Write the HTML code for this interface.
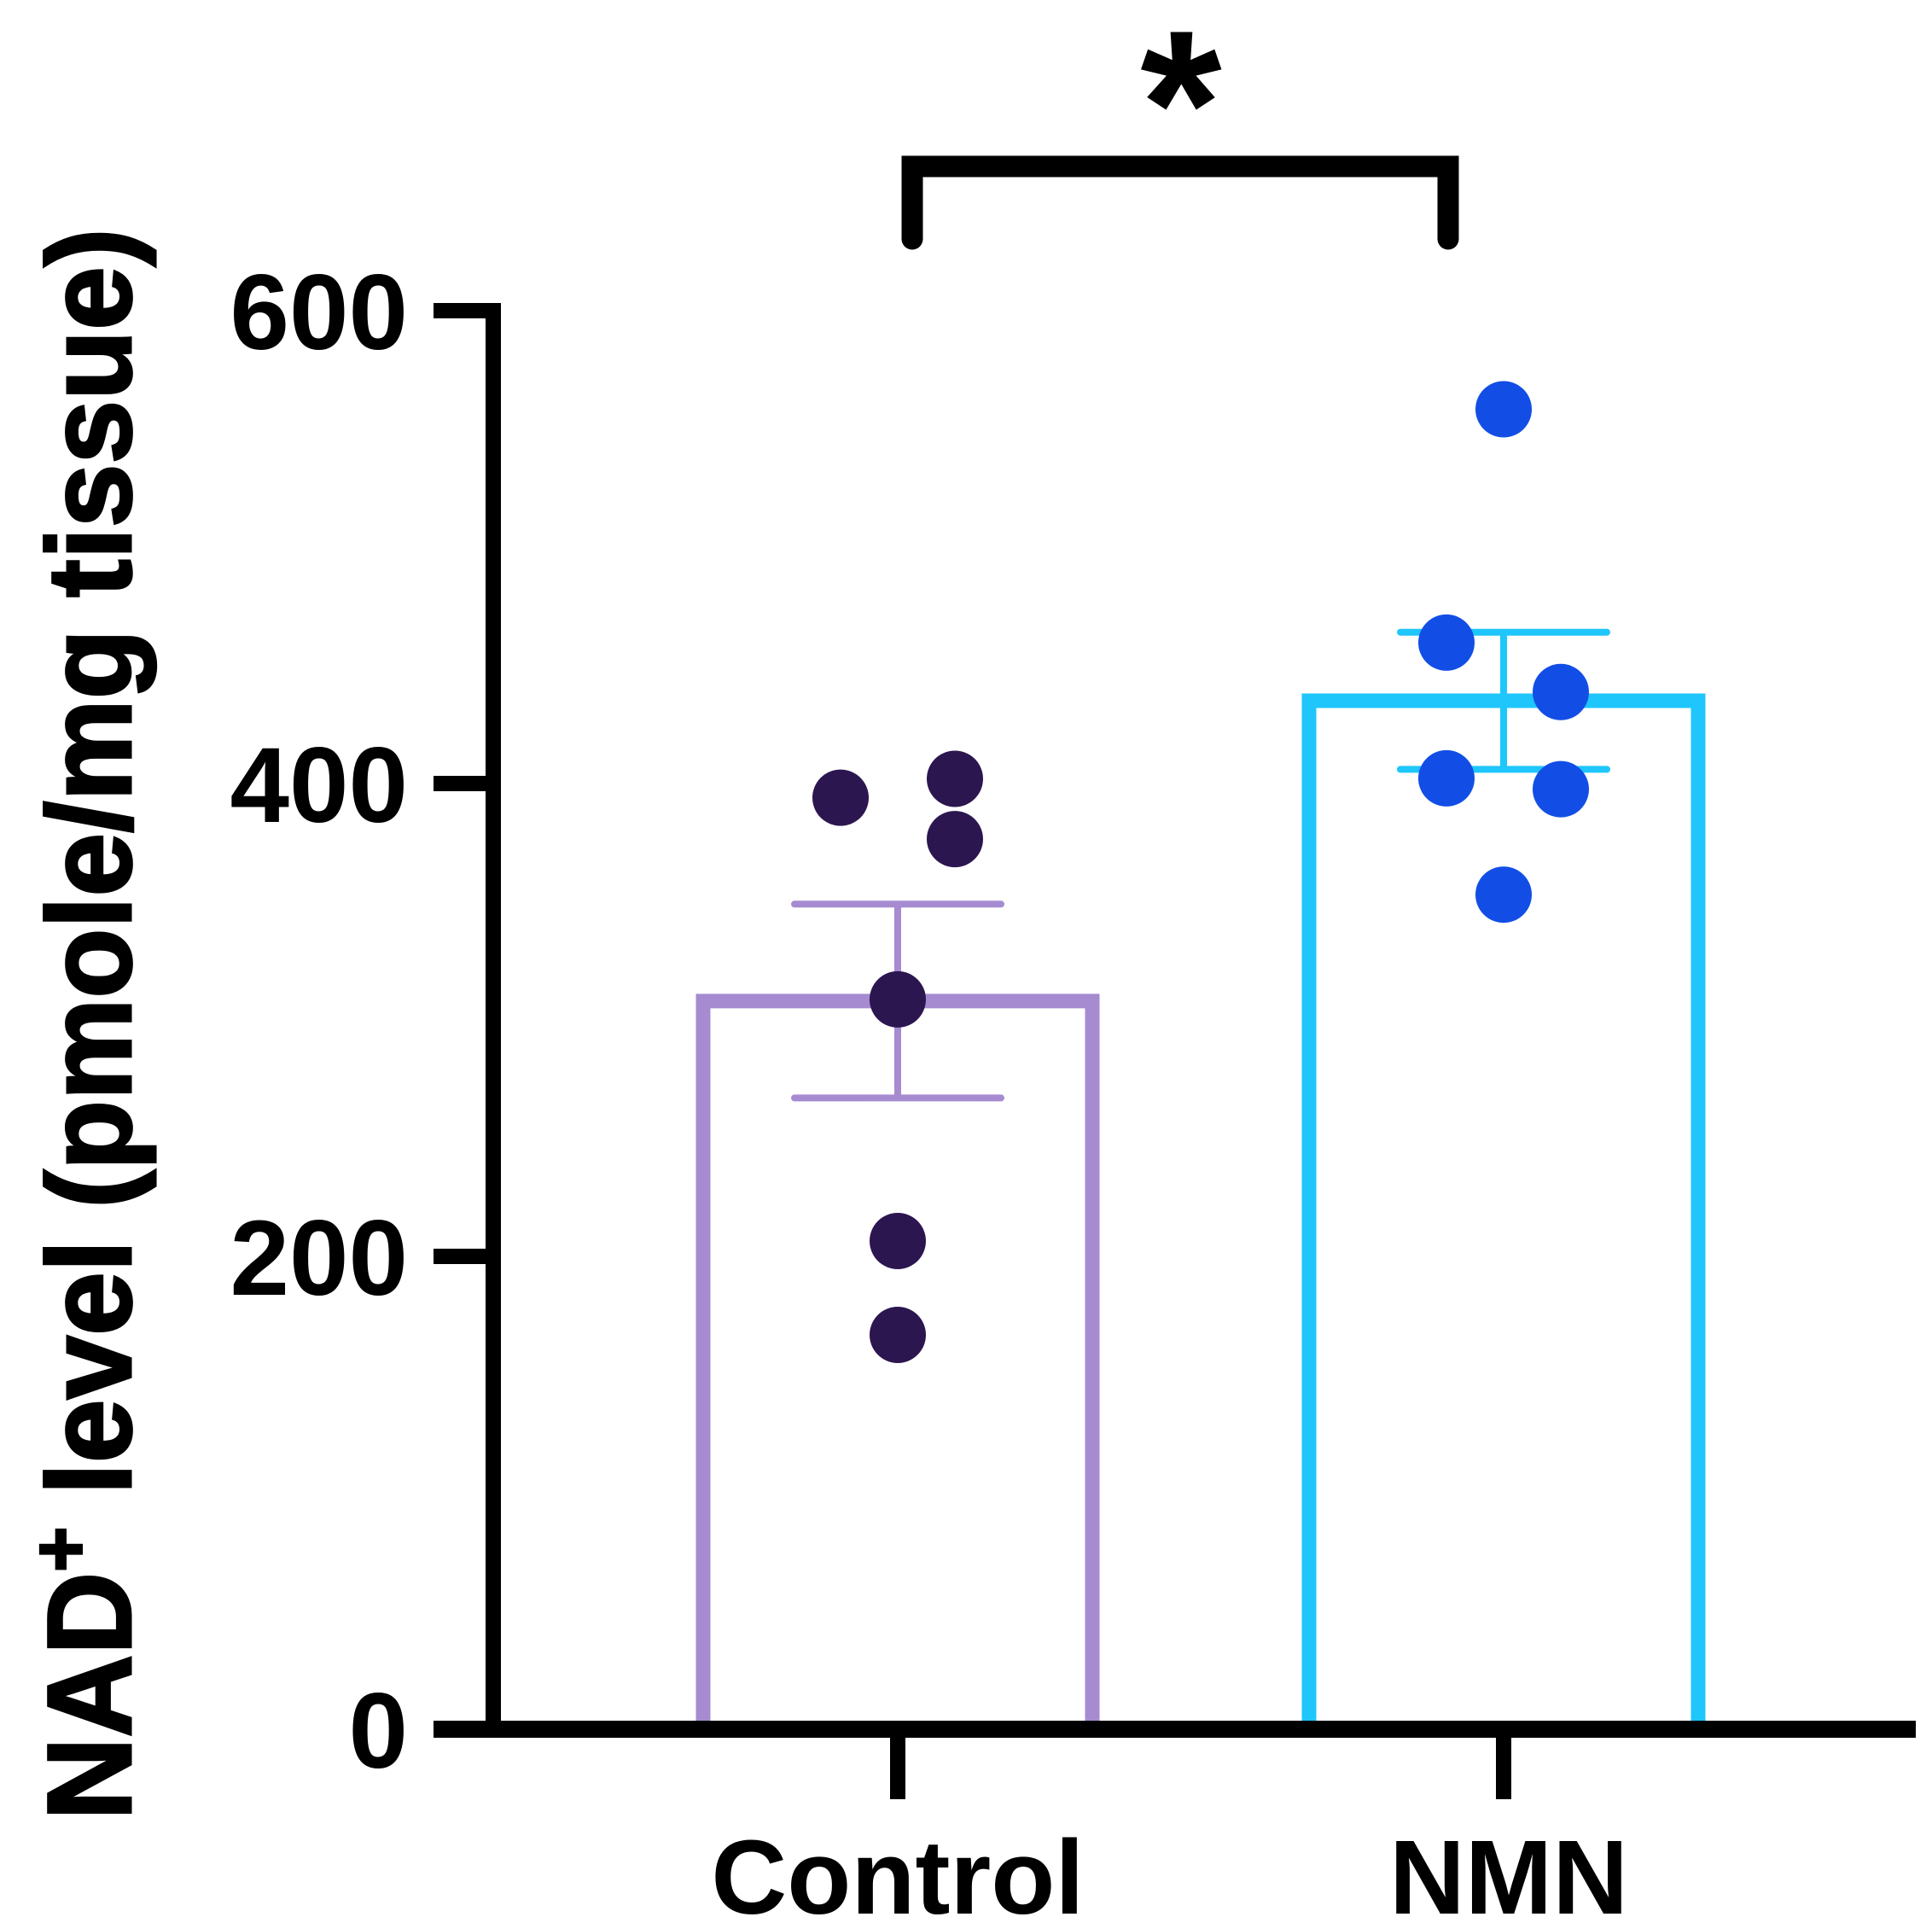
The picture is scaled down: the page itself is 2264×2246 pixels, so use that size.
<!DOCTYPE html>
<html><head><meta charset="utf-8"><style>
html,body{margin:0;padding:0;background:#fff;}
svg{display:block;}
text{font-family:"Liberation Sans",Arial,sans-serif;font-weight:bold;fill:#000;}
</style></head>
<body>
<svg id="chart" width="2264" height="2246" viewBox="0 0 2264 2246" xmlns="http://www.w3.org/2000/svg">
<g id="axes"></g>
<g id="bars"></g>
<g id="points"></g>
<g id="sig">
  <path d="M1069,280 L1069,195 L1697,195 L1697,280" fill="none" stroke="#000" stroke-width="25" stroke-linecap="round" stroke-linejoin="miter"/>
  <text x="1384" y="206" font-size="245" text-anchor="middle">*</text>
</g>
<text transform="translate(153,1200) rotate(-90)" text-anchor="middle" font-size="140" textLength="1865" lengthAdjust="spacingAndGlyphs" stroke="#000" stroke-width="3">NAD<tspan font-size="95" dy="-50">+</tspan><tspan dy="50"> level (pmole/mg tissue)</tspan></text>
</svg>
<script>
const categories = ["Control", "NMN"];
const means = [308, 435];
const sems = [41, 29];
const controlPoints = [394, 402, 376.5, 308.7, 206.5, 166.8];
const nmnPoints = [558.3, 459.6, 438.7, 402.2, 397.6, 353];
const jitter = [[-1,0],[1,0],[1,0],[0,0],[0,0],[0,0]];
const jitterNmn = [[0],[-1],[1],[-1],[1],[0]];
const yTicks = [0, 200, 400, 600];

const NS = "http://www.w3.org/2000/svg";
const y0px = 2026, y600px = 364;
function yScale(v){ return y0px - v * (y0px - y600px) / 600; }
const catCenters = [1052, 1762];
function xScale(i){ return catCenters[i]; }
function mk(tag, attrs, parent){
  const e = document.createElementNS(NS, tag);
  for (const k in attrs) e.setAttribute(k, attrs[k]);
  parent.appendChild(e); return e;
}
const axes = document.getElementById('axes');
const bars = document.getElementById('bars');
const pts = document.getElementById('points');

let yl = mk('line', {x1:578, y1:yScale(600)-9, x2:578, y2:y0px+10, stroke:'#000','stroke-width':18}, axes);


let xl = mk('line', {x1:508, y1:y0px, x2:2245, y2:y0px, stroke:'#000','stroke-width':20}, axes);



yTicks.forEach(t => {
  const y = yScale(t);
  const tk = mk('line', {x1:508, y1:y, x2:578, y2:y, stroke:'#000','stroke-width':18}, axes);
  
  
  const lb = mk('text', {x:478, y:y+45, 'font-size':125, 'text-anchor':'end'}, axes);
  lb.textContent = String(t);
  
  
});

const barColors = ['#a68bd1', '#1ec6fb'];
const dotColors = ['#2c1650', '#124ee6'];
const halfW = 228, capHalf = 121;
categories.forEach((c, i) => {
  const cx = xScale(i);
  const tk = mk('line', {x1:cx, y1:y0px, x2:cx, y2:2108, stroke:'#000','stroke-width':18}, axes);
  
  
  const lb = mk('text', {x:cx + (i===1?6:0), y:2242, 'font-size':123, 'text-anchor':'middle'}, axes);
  lb.textContent = c;
  
  

  const top = yScale(means[i]);
  const bar = mk('path', {d:`M${cx-halfW},${y0px-10} L${cx-halfW},${top} L${cx+halfW},${top} L${cx+halfW},${y0px-10}`, fill:'none', stroke:barColors[i], 'stroke-width':17}, bars);
  
  

  const eTop = yScale(means[i] + sems[i]), eBot = yScale(means[i] - sems[i]);
  const eg = mk('g', {stroke:barColors[i], 'stroke-width':8, 'stroke-linecap':'round'}, bars);
  
  
  mk('line', {x1:cx, y1:eTop, x2:cx, y2:eBot, 'stroke-linecap':'butt'}, eg);
  mk('line', {x1:cx-capHalf, y1:eTop, x2:cx+capHalf, y2:eTop}, eg);
  mk('line', {x1:cx-capHalf, y1:eBot, x2:cx+capHalf, y2:eBot}, eg);
});

function drawPoints(vals, i, jit){
  vals.forEach((v, k) => {
    const cx = xScale(i) + jit[k][0] * 67;
    const d = mk('circle', {cx:cx, cy:yScale(v), r:33, fill:dotColors[i]}, pts);
    
    
  });
}
drawPoints(controlPoints, 0, jitter);
drawPoints(nmnPoints, 1, jitterNmn);
</script>
</body></html>
